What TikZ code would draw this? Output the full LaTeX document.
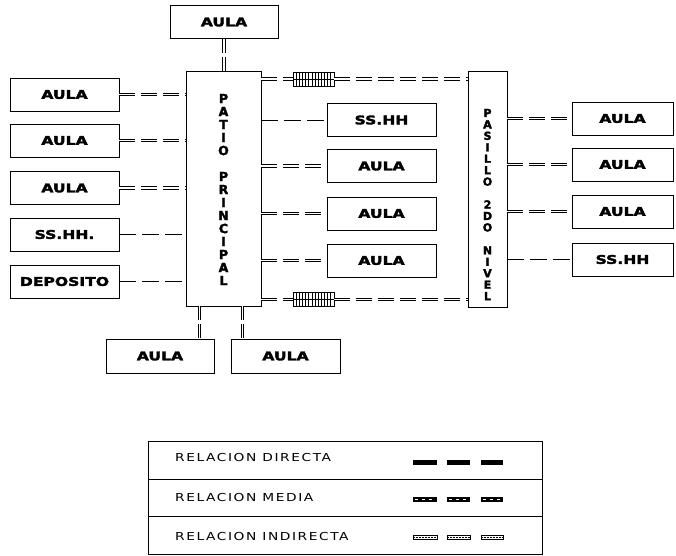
\documentclass[tikz,border=0pt]{standalone}
\usepackage{fontspec}
\setmainfont{DejaVu Sans}
\newfontfamily\heavy[FakeBold=2.5]{DejaVu Sans Bold}
\newfontfamily\legf[LetterSpace=11.5]{DejaVu Sans}
\usetikzlibrary{calc}
\newcommand\lbl[1]{\scalebox{1.3}[1]{#1}}
\newcommand\leglbl[1]{\scalebox{1.25}[1]{#1}}
\begin{document}
\begin{tikzpicture}[x=1pt,y=-1pt,
  box/.style={draw, line width=0.8pt, inner sep=0pt, minimum width=#1, minimum height=33pt,
              font=\heavy\fontsize{12}{12}\selectfont},
  box/.default=109pt,
  tall/.style={draw, line width=0.8pt, inner sep=0pt},
  dbl/.style={double, double distance=1.5pt, line width=1pt, dash pattern=on 16pt off 6pt},
  sgl/.style={line width=1pt, dash pattern=on 17pt off 6pt},
  vdbl/.style={double, double distance=1.5pt, line width=1pt, dash pattern=on 14pt off 4pt},
  hatch/.style={draw, line width=0.8pt, inner sep=0pt, minimum width=41pt, minimum height=14pt,
    path picture={
      \foreach \k in {1,...,12}
        \draw[line width=0.7pt] ([xshift={\k*3.15pt}]path picture bounding box.north west)
             -- ([xshift={\k*3.15pt}]path picture bounding box.south west);
      \draw[line width=0.6pt] (path picture bounding box.west) -- (path picture bounding box.east);
    }},
  vtxt/.style={align=center, font=\heavy\fontsize{12.5}{13}\selectfont, inner sep=0pt},
  legtxt/.style={anchor=west, inner sep=0pt, font=\legf\fontsize{11}{11}\selectfont}
]
\useasboundingbox (0,0) rectangle (676,555);

% main corridors
\node[tall, minimum width=75pt, minimum height=235pt] (patio) at (223.5,188.5) {};
\node[vtxt] (patiotxt) at (223.5,189.5) {P\\A\\T\\I\\O\\[13pt]P\\R\\I\\N\\C\\I\\P\\A\\L};
\node[tall, minimum width=39pt, minimum height=236pt] (pas) at (487.5,189) {};
\node[vtxt, font=\heavy\fontsize{11}{11.45}\selectfont] (pastxt) at (487.5,204.5)
  {P\\A\\S\\I\\L\\L\\O\\[11.45pt]2\\D\\O\\[11.45pt]N\\I\\V\\E\\L};

% top
\node[box=108pt] (T) at (224,22) {\lbl{AULA}};

% left column
\node[box] (L1) at (64.5,94.5) {\lbl{AULA}};
\node[box] (L2) at (64.5,140.5) {\lbl{AULA}};
\node[box] (L3) at (64.5,188) {\lbl{AULA}};
\node[box] (L4) at (64.5,234.5) {\lbl{SS.HH.}};
\node[box] (L5) at (64.5,281.5) {\lbl{DEPOSITO}};

% bottom
\node[box=108pt, minimum height=34pt] (B1) at (160,356) {\lbl{AULA}};
\node[box=109pt, minimum height=34pt] (B2) at (285.5,356) {\lbl{AULA}};

% middle column
\node[box] (M1) at (381.5,120) {\lbl{SS.HH}};
\node[box] (M2) at (381.5,166) {\lbl{AULA}};
\node[box] (M3) at (381.5,213.5) {\lbl{AULA}};
\node[box] (M4) at (381.5,260.5) {\lbl{AULA}};

% right column
\node[box=101pt] (R1) at (622.5,118.5) {\lbl{AULA}};
\node[box=101pt] (R2) at (622.5,164.5) {\lbl{AULA}};
\node[box=101pt] (R3) at (622.5,211.5) {\lbl{AULA}};
\node[box=101pt] (R4) at (622.5,259.5) {\lbl{SS.HH}};

% hatched links
\node[hatch] (H1) at (313.5,79) {};
\node[hatch] (H2) at (313.5,299.5) {};

% connectors
\draw[vdbl] (T.south) -- (T.south |- patio.north);
\draw[dbl] (L1.east) -- (L1.east -| patio.west);
\draw[dbl] (L2.east) -- (L2.east -| patio.west);
\draw[dbl] (L3.east) -- (L3.east -| patio.west);
\draw[sgl] (L4.east) -- (L4.east -| patio.west);
\draw[sgl] (L5.east) -- (L5.east -| patio.west);

\coordinate (pb1) at ($(patio.south west)+(14,0)$);
\coordinate (pb2) at ($(patio.south west)+(57,0)$);
\draw[vdbl] (pb1) -- (pb1 |- B1.north);
\draw[vdbl] (pb2) -- (pb2 |- B2.north);

\draw[sgl] (patio.east |- M1.west) -- (M1.west);
\draw[dbl] (patio.east |- M2.west) -- (M2.west);
\draw[dbl] (patio.east |- M3.west) -- (M3.west);
\draw[dbl] (patio.east |- M4.west) -- (M4.west);

\draw[dbl] (patio.east |- H1.west) -- (H1.west);
\draw[dbl] (H1.east) -- (H1.east -| pas.west);
\draw[dbl] (patio.east |- H2.west) -- (H2.west);
\draw[dbl] (H2.east) -- (H2.east -| pas.west);

\draw[dbl] (pas.east |- R1.west) -- (R1.west);
\draw[dbl] (pas.east |- R2.west) -- (R2.west);
\draw[dbl] (pas.east |- R3.west) -- (R3.west);
\draw[sgl] (pas.east |- R4.west) -- (R4.west);

% legend
\node[draw, line width=0.7pt, minimum width=394pt, minimum height=113pt, inner sep=0pt,
      anchor=north west] (leg) at (148,441) {};
\draw[line width=0.8pt] (leg.west |- 0,479) -- (leg.east |- 0,479);
\draw[line width=0.8pt] (leg.west |- 0,516) -- (leg.east |- 0,516);
\node[legtxt] (lt1) at (175,457) {\leglbl{RELACION DIRECTA}};
\node[legtxt] (lt2) at (175,497) {\leglbl{RELACION MEDIA}};
\node[legtxt] (lt3) at (175,536) {\leglbl{RELACION INDIRECTA}};

\foreach \a/\b in {413/437,447/470,481/503}{
  \fill (\a,460) rectangle (\b,464.5);
  \fill (\a,497) rectangle (\b,501.5);
  \draw[white, line width=0.5pt, dash pattern=on 3pt off 4pt] (\a+2,499.2) -- (\b-2,499.2);
  \draw[line width=0.8pt] (\a,535) rectangle (\b,539.5);
  \draw[line width=0.5pt, dash pattern=on 1.5pt off 1.5pt] (\a,537.2) -- (\b,537.2);
}
\end{tikzpicture}
\end{document}
